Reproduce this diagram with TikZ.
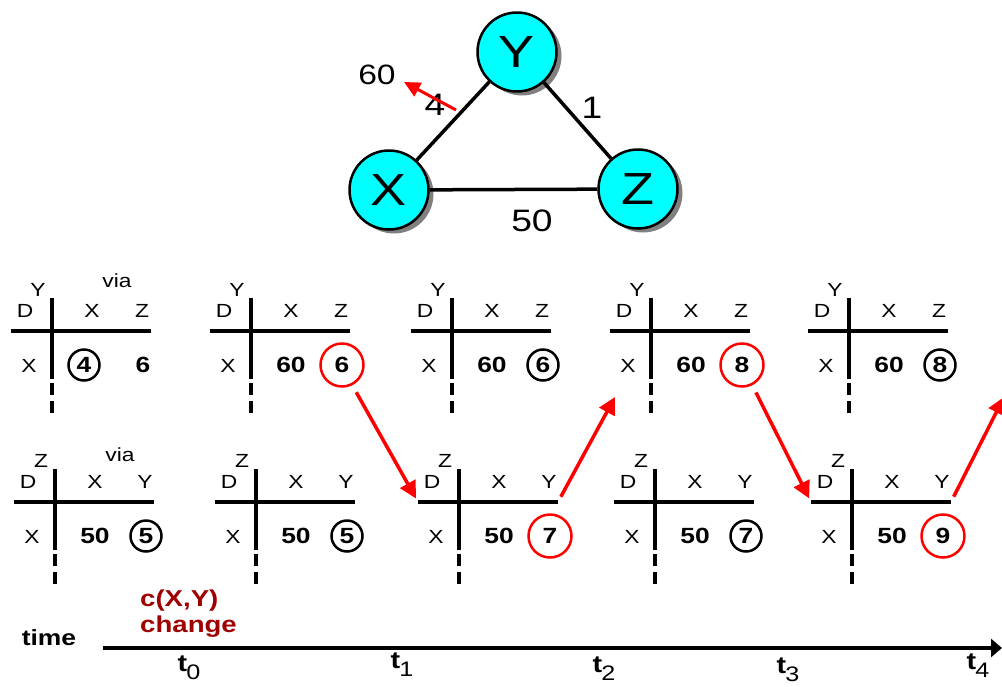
\documentclass[tikz,border=0pt]{standalone}
\usepackage{fontspec}
\setmainfont{Liberation Sans}[FakeStretch=1.2]
\usetikzlibrary{arrows.meta,shadows}
\definecolor{nodecyan}{RGB}{0,255,255}
\definecolor{chgred}{RGB}{160,0,0}
\tikzset{
  gnode/.style={circle, fill=nodecyan, draw, line width=2.5pt, minimum size=79pt, inner sep=0pt,
    font=\fontsize{45}{45}\selectfont,
    drop shadow={opacity=1, fill=black!50, shadow xshift=5pt, shadow yshift=-4pt}},
  link/.style={line width=3.5pt},
  wlab/.style={font=\fontsize{31}{31}\selectfont, inner sep=0pt},
  tabline/.style={line width=3.5pt},
  hdr/.style={font=\fontsize{19}{19}\selectfont, inner sep=0pt},
  val/.style={font=\fontsize{22}{22}\selectfont\bfseries, inner sep=0pt},
  oldc/.style={val, circle, draw, line width=2.5pt, minimum size=31pt},
  newc/.style={val, circle, draw=red, line width=2.5pt, minimum size=43pt},
  upd/.style={red, line width=3.5pt, -{Triangle[length=17pt,width=17pt]}},
  axisline/.style={line width=3.5pt, -{Triangle[length=11pt,width=18pt]}},
  tlab/.style={font=\fontsize{24}{24}\selectfont, inner sep=0pt}
}
\newcommand{\dvtable}[9]{%
  \begin{scope}[shift={#2}]
    \draw[tabline] (-41,0) coordinate (#1-l) -- (99,0) coordinate (#1-r);
    \draw[tabline] (0,-33) -- (0,48);
    \draw[tabline, dash pattern=on 12pt off 6pt] (0,52) -- (0,82);
    \coordinate (#1-in) at (-36,66);
    \node[hdr] (#1-d) at (-27,-20) {D};
    \node[hdr] (#1-o) at (-14,-41) {#3};
    \node[hdr] (#1-h1) at (40,-20) {#4};
    \node[hdr] (#1-h2) at (90,-20) {#5};
    \node[hdr] (#1-x) at (-23,35) {X};
    \node[#7] (#1-a) at (40,34) {#6};
    \node[#9] (#1-b) at (91,34) {#8};
  \end{scope}}
\newcommand{\tstep}[1]{\textbf{t}\kern-1pt\raisebox{-8pt}{\fontsize{21}{21}\selectfont #1}}
\begin{document}
\begin{tikzpicture}[x=1pt, y=-1pt]
    \useasboundingbox (0,0) rectangle (1002,686);

    \node[gnode] (X) at (389,190) {X};
    \node[gnode] (Y) at (517,52) {Y};
    \node[gnode] (Z) at (638,189) {Z};
    \draw[link] (X) -- (Y);
    \draw[link] (Y) -- (Z);
    \draw[link] (X) -- (Z);
    \node[wlab] (w4) at (435,105) {4};
    \node[wlab] (w1) at (592,108) {1};
    \node[wlab] (w50) at (532,221) {50};
    \node[wlab, font=\fontsize{28}{28}\selectfont] (w60) at (377,75) {60};
    \coordinate (oldw) at (456,110);
    \coordinate (neww) at (404,82);
    \draw[red, line width=3pt, -{Triangle[length=16pt,width=15pt]}] (oldw) -- (neww);

    \dvtable{ty0}{(52,331)}{Y}{X}{Z}{4}{oldc, xshift=-8pt}{6}{val}
    \dvtable{ty1}{(251,331)}{Y}{X}{Z}{60}{val}{6}{newc}
    \dvtable{ty2}{(452,331)}{Y}{X}{Z}{60}{val}{6}{oldc}
    \dvtable{ty3}{(651,331)}{Y}{X}{Z}{60}{val}{8}{newc}
    \dvtable{ty4}{(849,331)}{Y}{X}{Z}{60}{val}{8}{oldc}
    \node[hdr] (ty0-via) at (117,281) {via};

    \dvtable{tz0}{(55,502)}{Z}{X}{Y}{50}{val}{5}{oldc}
    \dvtable{tz1}{(256,502)}{Z}{X}{Y}{50}{val}{5}{oldc}
    \dvtable{tz2}{(459,502)}{Z}{X}{Y}{50}{val}{7}{newc}
    \dvtable{tz3}{(655,502)}{Z}{X}{Y}{50}{val}{7}{oldc}
    \dvtable{tz4}{(852,502)}{Z}{X}{Y}{50}{val}{9}{newc}
    \node[hdr] (tz0-via) at (120,455) {via};

    \coordinate (ty5-in) at (1004,397);
    \draw[upd, shorten <=8pt, shorten >=4pt] (ty1-b.-63) -- (tz2-l);
    \draw[upd, shorten <=6pt] (tz2-r) -- (ty3-in);
    \draw[upd, shorten <=8pt, shorten >=4pt] (ty3-b.-63) -- (tz4-l);
    \draw[upd, shorten <=6pt] (tz4-r) -- (ty5-in);

    \coordinate (tbeg) at (103,648);
    \coordinate (tend) at (1002,648);
    \draw[axisline] (tbeg) -- (tend);
    \node[tlab, font=\fontsize{22}{22}\selectfont\bfseries] (time) at (49,638) {time};
    \node[tlab, font=\fontsize{23}{26}\selectfont\bfseries, text=chgred, align=left, anchor=west] (chg) at (140,614) {c(X,Y)\\change};
    \node[tlab] (t0) at (189,668) {\tstep{0}};
    \node[tlab] (t1) at (402,665) {\tstep{1}};
    \node[tlab] (t2) at (604,669) {\tstep{2}};
    \node[tlab] (t3) at (788,670) {\tstep{3}};
    \node[tlab] (t4) at (978,666) {\tstep{4}};
\end{tikzpicture}
\end{document}
